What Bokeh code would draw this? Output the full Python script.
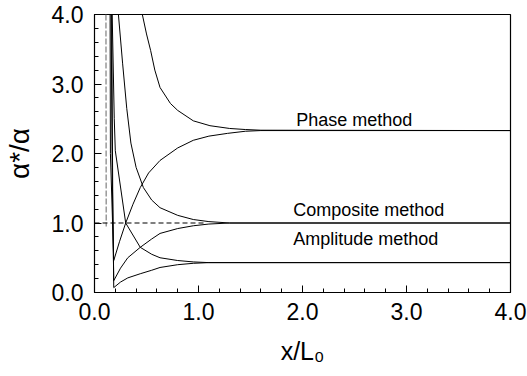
from bokeh.plotting import figure
from bokeh.models import FixedTicker, PrintfTickFormatter, Label
from bokeh.embed import file_html
from bokeh.resources import INLINE

# ---- data ----
phase_up_x = [0.46, 0.50, 0.54, 0.58, 0.63, 0.73, 0.80, 0.95, 1.11, 1.30, 1.45, 1.60, 4.0]
phase_up_y = [4.0, 3.72, 3.48, 3.20, 2.95, 2.72, 2.62, 2.47, 2.40, 2.36, 2.345, 2.335, 2.33]

phase_lo_x = [0.15, 0.153, 0.185, 0.24, 0.30, 0.37, 0.44, 0.52, 0.63, 0.80, 0.95, 1.10, 1.28, 1.45, 1.60, 4.0]
phase_lo_y = [4.0, 2.0, 0.46, 0.73, 1.00, 1.27, 1.51, 1.72, 1.90, 2.08, 2.19, 2.25, 2.29, 2.32, 2.33, 2.33]

comp_up_x = [0.23, 0.27, 0.31, 0.35, 0.40, 0.47, 0.55, 0.63, 0.80, 0.95, 1.10, 1.30, 4.0]
comp_up_y = [4.0, 3.3, 2.65, 2.15, 1.80, 1.51, 1.33, 1.22, 1.11, 1.05, 1.02, 1.0, 1.0]

comp_lo_x = [0.16, 0.17, 0.185, 0.25, 0.32, 0.44, 0.55, 0.63, 0.80, 0.95, 1.10, 1.30, 4.0]
comp_lo_y = [4.0, 1.8, 0.17, 0.35, 0.50, 0.65, 0.77, 0.85, 0.92, 0.96, 0.985, 1.0, 1.0]

amp_up_x = [0.17, 0.19, 0.20, 0.30, 0.44, 0.55, 0.63, 0.80, 0.95, 1.10, 4.0]
amp_up_y = [4.0, 2.5, 2.04, 1.0, 0.65, 0.55, 0.50, 0.46, 0.44, 0.43, 0.43]

amp_lo_x = [0.165, 0.175, 0.185, 0.25, 0.32, 0.44, 0.55, 0.63, 0.80, 0.95, 1.10, 4.0]
amp_lo_y = [4.0, 1.5, 0.07, 0.15, 0.21, 0.27, 0.32, 0.36, 0.40, 0.42, 0.43, 0.43]

spike_x = [0.11, 0.113]
spike_y = [4.0, 0.95]

ref_x = [0.0, 1.05]
ref_y = [1.0, 1.0]

label_texts = ["Phase method", "Composite method", "Amplitude method"]
label_x = [1.94, 1.91, 1.91]
label_y = [2.48, 1.19, 0.77]

x_ticks = [0, 1, 2, 3, 4]
y_ticks = [0, 1, 2, 3, 4]
minor_ticks = [i * 0.2 for i in range(21)]

FONT = "Liberation Sans"

p = figure(width=527, height=376, x_range=(0, 4), y_range=(0, 4),
           output_backend="svg", toolbar_location=None,
           min_border_left=94, min_border_right=17, min_border_top=14, min_border_bottom=84)
p.grid.visible = False
p.outline_line_color = "black"
p.outline_line_width = 1.2
p.background_fill_color = "white"
p.border_fill_color = "white"

for ax, ticks in ((p.xaxis[0], x_ticks), (p.yaxis[0], y_ticks)):
    ax.ticker = FixedTicker(ticks=ticks, minor_ticks=minor_ticks)
    ax.formatter = PrintfTickFormatter(format="%.1f")
    ax.major_tick_in = 7
    ax.major_tick_out = 0
    ax.minor_tick_in = 4
    ax.minor_tick_out = 0
    ax.axis_line_color = "black"
    ax.major_tick_line_color = "black"
    ax.minor_tick_line_color = "black"
    ax.major_label_text_font = FONT
    ax.major_label_text_font_size = "23px"
    ax.major_label_text_color = "black"
    ax.axis_label_text_font = FONT
    ax.axis_label_text_font_style = "normal"
    ax.axis_label_text_color = "black"

p.xaxis.axis_label = "x/L\u2080"
p.xaxis.axis_label_text_font_size = "25px"
p.xaxis.major_label_standoff = 10
p.xaxis.axis_label_standoff = 14
p.yaxis.axis_label = "\u03b1*/\u03b1"
p.yaxis.axis_label_text_font_size = "28px"
p.yaxis.major_label_standoff = 11
p.yaxis.axis_label_standoff = 14

lw = 1.0
p.line(phase_up_x, phase_up_y, line_color="black", line_width=lw)
p.line(phase_lo_x, phase_lo_y, line_color="black", line_width=lw)
p.line(comp_up_x, comp_up_y, line_color="black", line_width=lw)
p.line(comp_lo_x, comp_lo_y, line_color="black", line_width=lw)
p.line(amp_up_x, amp_up_y, line_color="black", line_width=lw)
p.line(amp_lo_x, amp_lo_y, line_color="black", line_width=lw)
p.line(spike_x, spike_y, line_color="#999999", line_width=1.5, line_dash="6 2")
p.line(ref_x, ref_y, line_color="black", line_width=1.2, line_dash="5 3")

for t, lx, ly in zip(label_texts, label_x, label_y):
    p.add_layout(Label(x=lx, y=ly, text=t, text_font=FONT, text_font_size="18px",
                       text_color="black", text_baseline="alphabetic", text_align="left"))

open("out.html", "w").write(file_html(p, INLINE))
